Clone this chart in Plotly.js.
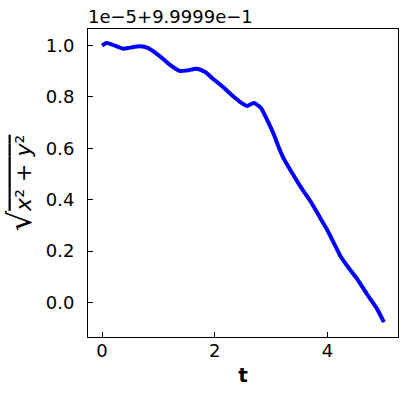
<!DOCTYPE html>
<html>
<head>
<meta charset="utf-8">
<script src="https://cdn.plot.ly/plotly-3.0.1.min.js"></script>
<style>
  body { margin: 0; padding: 0; background: #fff; }
  #plot { width: 407px; height: 400px; }
</style>
</head>
<body>
<div id="plot"></div>
<script>
// time samples and radius (shown relative to the 1e-5 offset)
var tvals = [0, 0.08, 0.2, 0.37, 0.5, 0.67, 0.82, 0.97, 1.1, 1.2, 1.38, 1.5, 1.68, 1.83, 1.95, 2.04, 2.15, 2.27, 2.45, 2.57, 2.69, 2.81, 2.93, 3.04, 3.13, 3.22, 3.34, 3.52, 3.70, 3.87, 3.99, 4.11, 4.23, 4.35, 4.53, 4.70, 4.88, 5.0];
var radius = [1.0, 1.010, 1.002, 0.988, 0.992, 0.997, 0.990, 0.968, 0.945, 0.926, 0.901, 0.903, 0.910, 0.897, 0.874, 0.858, 0.838, 0.813, 0.780, 0.765, 0.776, 0.759, 0.710, 0.658, 0.606, 0.561, 0.516, 0.451, 0.393, 0.329, 0.284, 0.232, 0.180, 0.142, 0.090, 0.032, -0.026, -0.077];

var yticks = [0.0, 0.2, 0.4, 0.6, 0.8, 1.0];
var xticks = [0, 2, 4];
var offsetLabel = '1e\u22125+9.9999e\u22121';

var trace = {
    type: 'scatter',
    x: tvals,
    y: radius,
    mode: 'lines',
    line: { color: 'rgb(0, 0, 255)', width: 4, shape: 'spline', smoothing: 0.6 },
    showlegend: false
};

var font = { family: 'DejaVu Sans', size: 18, color: '#000' };

var layout = {
    width: 407,
    height: 400,
    margin: { l: 88, r: 9, t: 29, b: 63 },
    paper_bgcolor: '#fff',
    plot_bgcolor: '#fff',
    font: font,
    xaxis: {
        range: [-0.25, 5.25],
        tickvals: xticks,
        ticktext: xticks.map(String),
        ticks: 'inside',
        ticklen: 5,
        tickcolor: '#000',
        showline: true,
        linecolor: '#000',
        linewidth: 1,
        mirror: true,
        showgrid: false,
        zeroline: false,
        tickfont: font,
        ticklabelstandoff: -3,
        title: { text: '<b>t</b>', font: { family: 'DejaVu Sans', size: 20, color: '#000' }, standoff: 8 }
    },
    yaxis: {
        range: [-0.1345, 1.0645],
        tickvals: yticks,
        ticktext: yticks.map(function (v) { return v.toFixed(1); }),
        ticks: 'inside',
        ticklen: 5,
        tickcolor: '#000',
        showline: true,
        linecolor: '#000',
        linewidth: 1,
        mirror: true,
        showgrid: false,
        zeroline: false,
        tickfont: font,
        ticklabelstandoff: 9,
        title: {
            text: '<span style="font-size:32px">\u221A</span><span style="text-decoration:overline"><i>x</i>\u00B2 + <i>y</i>\u00B2</span>',
            font: { family: 'DejaVu Sans', size: 22, color: '#000' },
            standoff: 8
        }
    },
    annotations: [{
        text: offsetLabel,
        xref: 'paper', yref: 'paper',
        x: 0, y: 1,
        xanchor: 'left', yanchor: 'bottom',
        showarrow: false,
        font: font,
        xshift: -2, yshift: 0
    }]
};

Plotly.newPlot('plot', [trace], layout, { displayModeBar: false, staticPlot: true });
</script>
</body>
</html>
